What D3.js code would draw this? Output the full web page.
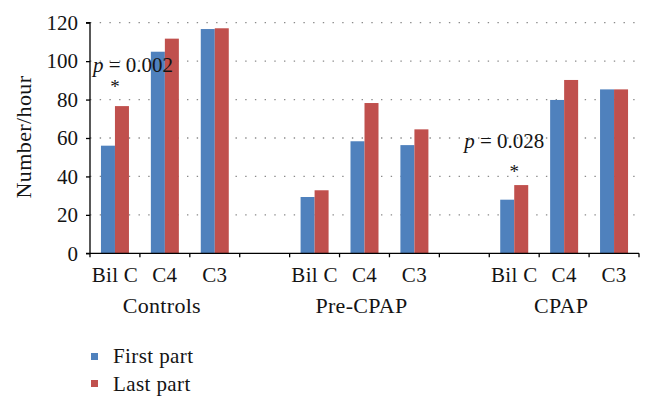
<!DOCTYPE html>
<html>
<head>
<meta charset="utf-8">
<script src="https://cdn.jsdelivr.net/npm/d3@7"></script>
<style>
  html, body { margin: 0; padding: 0; background: #fff; }
  svg { display: block; }
  svg text { font-family: "Liberation Serif", "Times New Roman", Times, "DejaVu Serif"; }
</style>
</head>
<body>
<svg id="chart" width="653" height="408"></svg>
<script>
// ---- data ----
const groups = ["Controls", "Pre-CPAP", "CPAP"];
const categories = ["Bil C", "C4", "C3"];
const seriesNames = ["First part", "Last part"];
const firstPart = [56.0, 104.9, 116.7, 29.3, 58.3, 56.3, 27.9, 79.8, 85.3];
const lastPart  = [76.6, 111.7, 117.1, 32.8, 78.2, 64.5, 35.5, 90.2, 85.3];
const yTicks = [0, 20, 40, 60, 80, 100, 120];
const yLabel = "Number/hour";
// significance annotations
const annoGroup = [0, 2];
const annoCat = [0, 0];
const annoText = ["0.002", "0.028"];
const annoTextLevel = [94.5, 54.6];
const annoStarLevel = [88.6, 44.4];
const annoShift = [18, -10];

const colors = ["#4F81BD", "#C0504D"];
const ink = "#141414";

// ---- layout ----
const svg = d3.select("#chart");
const mLeft = 90, mRight = 639, mTop = 22.7, mBottom = 253.3;
const slotsPerGroup = categories.length + 1;
const nSlots = groups.length * slotsPerGroup - 1;
const slotIdx = (g, c) => g * slotsPerGroup + c;

const x = d3.scaleBand().domain(d3.range(nSlots)).range([mLeft, mRight]).padding(0);
const y = d3.scaleLinear().domain([0, 120]).range([mBottom, mTop]);
const barW = 14;
const fs = 21;

// gridlines
svg.append("g").selectAll("line").data(yTicks.filter(t => t > 0)).join("line")
  .attr("x1", mLeft).attr("x2", mRight)
  .attr("y1", d => y(d)).attr("y2", d => y(d))
  .attr("stroke", "#8a8a8a").attr("stroke-width", 1.3)
  .attr("stroke-dasharray", "1.4,8.3");

// bars
const rows = [];
groups.forEach((g, gi) => categories.forEach((c, ci) => {
  const i = gi * categories.length + ci;
  rows.push({ slot: slotIdx(gi, ci), vals: [firstPart[i], lastPart[i]] });
}));
const barG = svg.append("g");
rows.forEach(r => {
  const cx = x(r.slot) + x.bandwidth() / 2;
  r.vals.forEach((v, si) => {
    barG.append("rect")
      .attr("x", cx - barW + si * barW)
      .attr("width", barW)
      .attr("y", y(v))
      .attr("height", y(0) - y(v))
      .attr("fill", colors[si]);
  });
});

// y axis
const yAxis = d3.axisLeft(y).tickValues(yTicks).tickSize(4).tickPadding(8);
const yg = svg.append("g").attr("transform", `translate(${mLeft},0)`).call(yAxis);
yg.attr("font-family", null).attr("font-size", null);
yg.select(".domain").attr("stroke", "#000").attr("stroke-width", 1.3).attr("d", `M-4,${mTop}H0V${mBottom}H-4`);
yg.selectAll(".tick line").attr("stroke", "#000").attr("stroke-width", 1.3);
yg.selectAll(".tick text").style("font-size", fs + "px").attr("fill", ink);

// x axis: line + ticks at slot boundaries
const xg = svg.append("g");
xg.append("line").attr("x1", mLeft).attr("x2", mRight).attr("y1", mBottom).attr("y2", mBottom)
  .attr("stroke", "#000").attr("stroke-width", 1.3);
const bounds = d3.range(nSlots + 1).map(i => i < nSlots ? x(i) : mRight);
xg.selectAll("line.t").data(bounds).join("line").attr("class", "t")
  .attr("x1", d => d).attr("x2", d => d).attr("y1", mBottom).attr("y2", mBottom + 4)
  .attr("stroke", "#000").attr("stroke-width", 1.3);

// category labels
rows.forEach((r, i) => {
  svg.append("text")
    .attr("x", x(r.slot) + x.bandwidth() / 2)
    .attr("y", 281.5)
    .attr("text-anchor", "middle")
    .style("font-size", fs + "px").attr("letter-spacing", 0.3).attr("fill", ink)
    .text(categories[i % categories.length]);
});
// group labels
groups.forEach((g, gi) => {
  const x0 = x(slotIdx(gi, 0)), x1 = x(slotIdx(gi, categories.length - 1)) + x.bandwidth();
  svg.append("text")
    .attr("x", (x0 + x1) / 2 - 3)
    .attr("y", 313)
    .attr("text-anchor", "middle")
    .style("font-size", (fs + 1) + "px").attr("letter-spacing", 0.3).attr("fill", ink)
    .text(g);
});

// y label
svg.append("text")
  .attr("transform", `translate(31,137) rotate(-90)`)
  .attr("text-anchor", "middle")
  .style("font-size", (fs + 1) + "px").attr("letter-spacing", 0.4).attr("fill", ink)
  .text(yLabel);

// annotations
annoGroup.forEach((g, i) => {
  const cx = x(slotIdx(g, annoCat[i])) + x.bandwidth() / 2;
  const t = svg.append("text")
    .attr("x", cx + annoShift[i])
    .attr("y", y(annoTextLevel[i]))
    .attr("text-anchor", "middle")
    .style("font-size", fs + "px").attr("fill", ink);
  t.append("tspan").attr("font-style", "italic").text("p");
  t.append("tspan").text(" = " + annoText[i]);
  svg.append("text")
    .attr("x", cx)
    .attr("y", y(annoStarLevel[i]) + 10)
    .attr("text-anchor", "middle")
    .style("font-size", "19px").attr("fill", ink)
    .text("*");
});

// legend
const lg = svg.append("g");
seriesNames.forEach((s, i) => {
  lg.append("rect").attr("x", 91).attr("y", 353 + i * 27).attr("width", 7).attr("height", 7).attr("fill", colors[i]);
  lg.append("text").attr("x", 113).attr("y", 363 + i * 28).style("font-size", fs + "px")
    .attr("letter-spacing", 0.4).attr("fill", ink).text(s);
});
</script>
</body>
</html>
